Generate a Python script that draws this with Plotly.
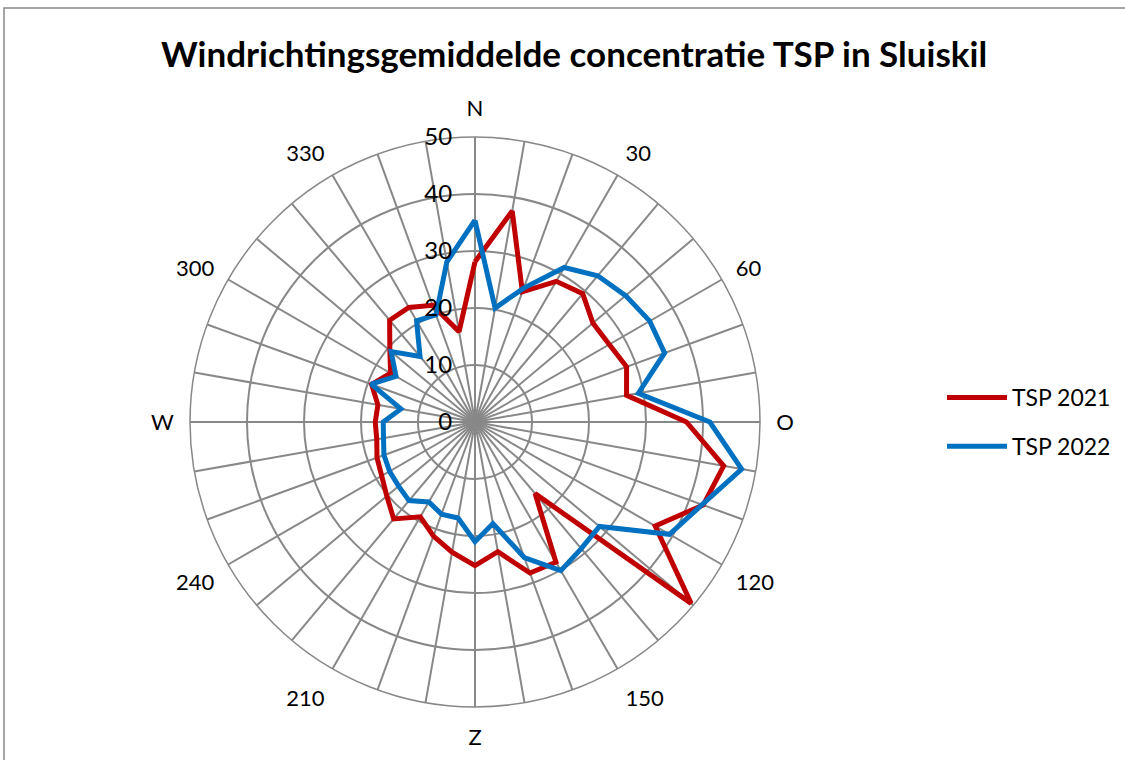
import plotly.graph_objects as go

# Wind direction (degrees, clockwise from north)
directions = [0, 10, 20, 30, 40, 50, 60, 70, 80, 90, 100, 110, 120, 130, 140, 150, 160, 170,
              180, 190, 200, 210, 220, 230, 240, 250, 260, 270, 280, 290, 300, 310, 320, 330, 340, 350]

tsp_2021 = [28.1, 37.6, 24.3, 28.5, 29.4, 27.0, 27.2, 28.3, 27.0, 37.1, 44.3, 42.6, 36.5, 49.5,
            16.4, 28.4, 28.2, 23.1, 25.2, 23.2, 21.3, 19.2, 22.2, 20.2, 18.9, 18.3, 17.5, 17.5,
            17.3, 19.3, 17.1, 19.5, 23.3, 23.2, 21.8, 16.1]

tsp_2022 = [35.4, 20.3, 25.0, 31.3, 33.5, 34.5, 35.4, 35.4, 29.1, 41.2, 47.5, 42.4, 39.4, 28.5,
            29.0, 30.1, 25.3, 18.1, 21.0, 17.1, 17.2, 16.2, 18.0, 17.5, 17.3, 17.0, 16.3, 16.1,
            13.2, 19.4, 16.0, 19.2, 15.0, 20.5, 20.0, 28.5]

angular_labels = {0: "N", 30: "30", 60: "60", 90: "O", 120: "120", 150: "150",
                  180: "Z", 210: "210", 240: "240", 270: "W", 300: "300", 330: "330"}
radial_ticks = [0, 10, 20, 30, 40, 50]

series = [("TSP 2021", tsp_2021, "#C00000"), ("TSP 2022", tsp_2022, "#0070C0")]

FONT = "Lato"
W, H = 1125, 760
cx, cy, R = 475, 422, 285

fig = go.Figure()
for i, (name, vals, col) in enumerate(series):
    fig.add_trace(go.Scatterpolar(
        r=vals + vals[:1],
        theta=directions + directions[:1],
        mode="lines",
        name=name,
        legendgroup=str(i),
        line=dict(color=col, width=5),
    ))

fig.update_layout(
    width=W, height=H,
    margin=dict(l=0, r=0, t=0, b=0),
    paper_bgcolor="white",
    font=dict(family=FONT, size=22, color="#000000"),
    title=dict(text="<b>Windrichtingsgemiddelde concentratie TSP in Sluiskil</b>",
               x=574 / W, xanchor="center", y=1 - 55 / H, yanchor="middle",
               font=dict(family=FONT, size=35, color="#000000")),
    polar=dict(
        domain=dict(x=[(cx - R) / W, (cx + R) / W], y=[(H - cy - R) / H, (H - cy + R) / H]),
        bgcolor="white",
        angularaxis=dict(
            rotation=90, direction="clockwise",
            tickmode="array", tickvals=directions,
            ticktext=[angular_labels.get(d, "") for d in directions],
            showgrid=True, gridcolor="#888888", gridwidth=1.5,
            showline=True, linecolor="#888888", linewidth=1.5,
            ticks="outside", ticklen=11, tickcolor="rgba(0,0,0,0)",
            tickfont=dict(family=FONT, size=22, color="#000000"),
        ),
        radialaxis=dict(
            range=[0, 50], tickmode="array", tickvals=radial_ticks,
            angle=90, tickangle=90, side="counterclockwise",
            showgrid=True, gridcolor="#888888", gridwidth=1.5,
            showline=False, ticks="outside", ticklen=14, tickcolor="rgba(0,0,0,0)",
            tickfont=dict(family=FONT, size=24, color="#000000"),
        ),
    ),
    legend=dict(x=942 / W, xanchor="left", y=1 - 422 / H, yanchor="middle",
                font=dict(family=FONT, size=23, color="#000000"),
                itemwidth=60, tracegroupgap=16, bgcolor="rgba(0,0,0,0)"),
    shapes=[dict(type="rect", xref="paper", yref="paper",
                 x0=4 / W, x1=1.02, y0=-0.02, y1=1 - 8 / H,
                 line=dict(color="#888888", width=1.5), fillcolor="rgba(0,0,0,0)")],
)

fig.write_html(
    "out.html", config={"displayModeBar": False},
    post_script="document.body.style.margin='0';document.body.style.overflow='hidden';"
                "document.documentElement.style.overflow='hidden';")
